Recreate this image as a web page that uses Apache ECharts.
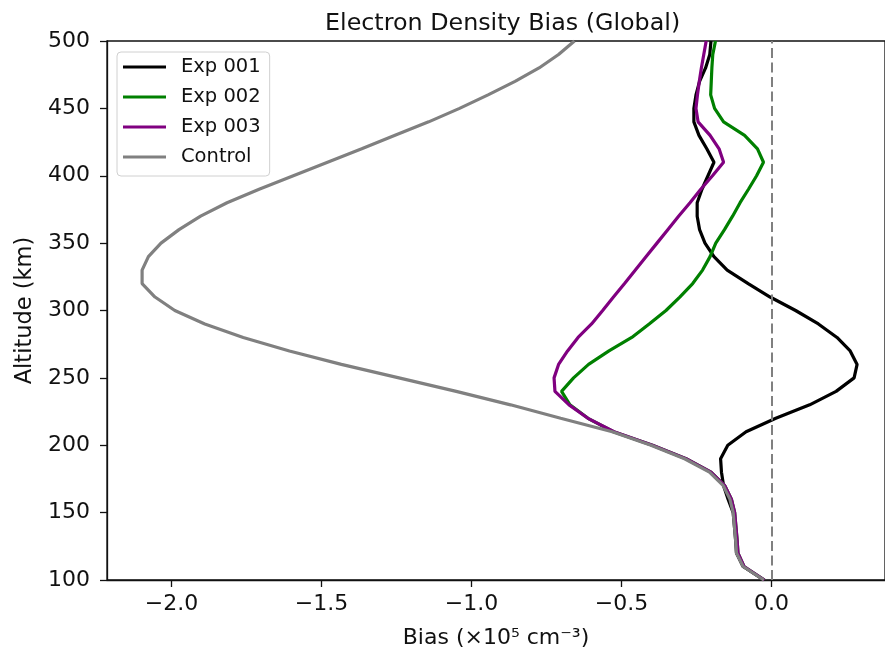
<!DOCTYPE html>
<html>
<head>
<meta charset="utf-8">
<script src="https://cdn.jsdelivr.net/npm/echarts@6/dist/echarts.min.js"></script>
<style>html,body{margin:0;padding:0;background:#fff}#chart{width:885px;height:654px}</style>
</head>
<body>
<div id="chart"></div>
<script>
const altitudes = [100,110,120,130,140,150,160,170,180,190,200,210,220,230,240,250,260,270,280,290,300,310,320,330,340,350,360,370,380,390,400,410,420,430,440,450,460,470,480,490,500];
const exp001 = [-0.026,-0.095,-0.117,-0.12,-0.124,-0.128,-0.145,-0.16,-0.167,-0.17,-0.146,-0.085,0.014,0.127,0.215,0.275,0.285,0.262,0.218,0.156,0.08,-0.005,-0.078,-0.148,-0.192,-0.222,-0.24,-0.248,-0.248,-0.232,-0.212,-0.192,-0.216,-0.242,-0.259,-0.259,-0.252,-0.24,-0.22,-0.206,-0.202];
const exp002 = [-0.024,-0.092,-0.112,-0.115,-0.119,-0.123,-0.134,-0.156,-0.202,-0.285,-0.397,-0.527,-0.612,-0.672,-0.70,-0.66,-0.61,-0.542,-0.466,-0.408,-0.352,-0.306,-0.263,-0.23,-0.205,-0.186,-0.157,-0.13,-0.105,-0.077,-0.05,-0.027,-0.047,-0.09,-0.16,-0.19,-0.203,-0.201,-0.199,-0.196,-0.187];
const exp003 = [-0.024,-0.092,-0.112,-0.115,-0.119,-0.123,-0.134,-0.156,-0.202,-0.285,-0.397,-0.525,-0.612,-0.675,-0.722,-0.725,-0.71,-0.68,-0.645,-0.60,-0.563,-0.527,-0.49,-0.454,-0.418,-0.382,-0.346,-0.31,-0.272,-0.236,-0.197,-0.16,-0.175,-0.205,-0.245,-0.252,-0.247,-0.241,-0.234,-0.226,-0.218];
const control = [-0.026,-0.095,-0.117,-0.12,-0.124,-0.128,-0.139,-0.161,-0.207,-0.29,-0.402,-0.531,-0.703,-0.87,-1.051,-1.242,-1.434,-1.607,-1.761,-1.889,-1.989,-2.055,-2.098,-2.098,-2.077,-2.035,-1.975,-1.903,-1.815,-1.708,-1.594,-1.48,-1.366,-1.255,-1.143,-1.04,-0.945,-0.855,-0.775,-0.71,-0.657];
const seriesNames = ['Exp 001','Exp 002','Exp 003','Control'];
const seriesColors = ['#000000','#008000','#800080','#808080'];
const xTicks = [-2.0,-1.5,-1.0,-0.5,0.0];

const allValues = [exp001, exp002, exp003, control];
const font = 'DejaVu Sans';
const chart = echarts.init(document.getElementById('chart'), null, {renderer:'canvas'});

const series = allValues.map((vals, i) => ({
  name: seriesNames[i],
  type: 'line',
  data: vals.map((v, j) => [v, altitudes[j]]),
  symbol: 'none',
  smooth: false,
  lineStyle: {color: seriesColors[i], width: 3.2},
  itemStyle: {color: seriesColors[i]},
  z: 3 + i,
  animation: false
}));
series[0].markLine = {
  silent: true,
  symbol: ['none','none'],
  label: {show: false},
  lineStyle: {color: '#808080', type: [10, 4.5], width: 2},
  data: [{xAxis: 0}],
  animation: false
};

function fmt(v){ return (v < 0 ? '\u2212' : '') + Math.abs(v).toFixed(1); }

chart.setOption({
  animation: false,
  backgroundColor: '#ffffff',
  title: {
    text: 'Electron Density Bias (Global)',
    left: 320, top: 7,
    textStyle: {fontFamily: font, fontSize: 23.8, fontWeight: 'normal', color: '#111'}
  },
  legend: {
    orient: 'vertical',
    left: 117, top: 52,
    data: seriesNames,
    icon: 'rect',
    itemWidth: 43, itemHeight: 3.2, itemGap: 8,
    padding: [4, 9, 8, 6],
    borderColor: '#d0d0d0', borderWidth: 1, borderRadius: 4,
    backgroundColor: 'rgba(255,255,255,0.8)',
    textStyle: {fontFamily: font, fontSize: 19.5, color: '#111', lineHeight: 22, padding: [0,0,0,10]}
  },
  grid: {
    left: 107, right: 0, top: 41, bottom: 72,
    show: true, borderColor: '#111', borderWidth: 1.3, backgroundColor: 'transparent'
  },
  xAxis: {
    type: 'value',
    min: -2.215, max: 0.378,
    name: 'Bias (\u00d710\u2075 cm\u207b\u00b3)',
    nameLocation: 'middle', nameGap: 47,
    nameTextStyle: {fontFamily: font, fontSize: 22, color: '#111'},
    axisLine: {show: true, onZero: false, lineStyle: {color: '#111', width: 1.3}},
    axisTick: {show: true, inside: false, length: 7, lineStyle: {color: '#111', width: 1.3}, customValues: xTicks},
    axisLabel: {show: true, margin: 13, fontFamily: font, fontSize: 22, color: '#111', customValues: xTicks, formatter: fmt},
    splitLine: {show: false}
  },
  yAxis: {
    type: 'value',
    min: 100, max: 500, interval: 50,
    name: 'Altitude (km)',
    nameLocation: 'middle', nameGap: 68,
    nameTextStyle: {fontFamily: font, fontSize: 22.5, color: '#111'},
    axisLine: {show: true, onZero: false, lineStyle: {color: '#111', width: 1.3}},
    axisTick: {show: true, inside: false, length: 7, lineStyle: {color: '#111', width: 1.3}},
    axisLabel: {show: true, margin: 17, fontFamily: font, fontSize: 22, color: '#111'},
    splitLine: {show: false}
  },
  series: series
});
</script>
</body>
</html>
